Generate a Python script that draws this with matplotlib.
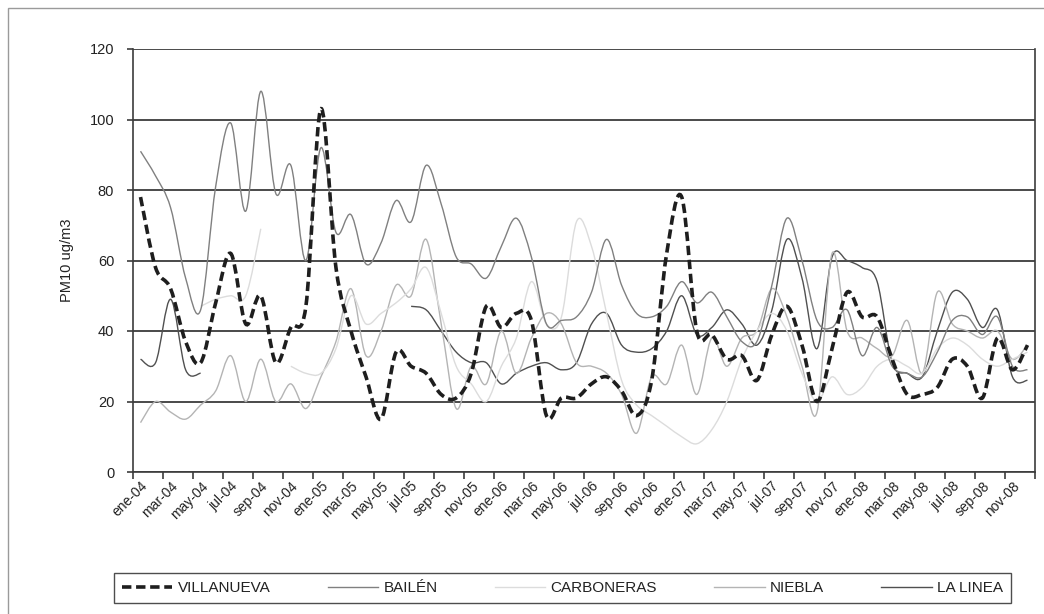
import numpy as np
import matplotlib
matplotlib.use('Agg')
import matplotlib.pyplot as plt
from matplotlib.path import Path
from matplotlib.patches import PathPatch, Rectangle
from matplotlib.lines import Line2D

plt.rcParams['font.family'] = ['Liberation Sans', 'DejaVu Sans']

nan = np.nan
month_names = ['ene', 'feb', 'mar', 'abr', 'may', 'jun', 'jul', 'ago', 'sep', 'oct', 'nov', 'dic']
years = ['04', '05', '06', '07', '08']
categories = [f'{m}-{y}' for y in years for m in month_names]
tick_labels = categories[::2]

villanueva = [78, 58, 52, 37, 31, 48, 62, 42, 50, 31, 41, 47,
              103, 58, 40, 27, 15, 34, 30, 28, 22, 21, 28, 47,
              41, 45, 43, 16, 21, 21, 25, 27, 23, 16, 26, 62,
              78, 40, 39, 32, 33, 26, 39, 47, 36, 20, 35, 51,
              44, 44, 32, 22, 22, 24, 32, 30, 21, 38, 29, 36]
bailen = [91, 84, 75, 55, 46, 81, 99, 74, 108, 79, 87, 60,
          92, 68, 73, 59, 65, 77, 71, 87, 76, 61, 59, 55,
          64, 72, 61, 42, 43, 44, 51, 66, 53, 45, 44, 47,
          54, 48, 51, 44, 37, 37, 53, 72, 60, 43, 41, 46,
          33, 41, 30, 28, 27, 34, 43, 44, 39, 44, 30, 29]
carboneras = [nan, nan, nan, nan, 47, 49, 50, 50, 69, nan, 30, 28,
              28, 35, 50, 42, 45, 48, 52, 58, 45, 30, 25, 20,
              30, 38, 54, 42, 44, 71, 64, 45, 26, 19, 16, 13,
              10, 8, 12, 20, 32, 40, 45, 40, 28, 20, 27, 22,
              24, 30, 32, 30, 28, 35, 38, 36, 32, 30, 32, 34]
niebla = [14, 20, 17, 15, 19, 23, 33, 20, 32, 20, 25, 18,
          27, 37, 52, 33, 40, 53, 50, 66, 42, 18, 30, 25,
          40, 28, 38, 45, 42, 31, 30, 28, 22, 11, 27, 25,
          36, 22, 38, 30, 38, 40, 52, 44, 30, 17, 62, 40,
          38, 35, 33, 43, 28, 51, 42, 40, 38, 40, 32, 36]
la_linea = [32, 31, 49, 29, 28, nan, nan, nan, nan, nan, nan, nan,
            nan, nan, nan, nan, nan, nan, 47, 46, 40, 34, 31, 31,
            25, 28, 30, 31, 29, 31, 42, 45, 36, 34, 35, 40,
            50, 39, 41, 46, 42, 36, 46, 66, 55, 35, 61, 60,
            58, 54, 31, 28, 27, 40, 51, 49, 41, 46, 27, 26]

series = [
    ('VILLANUEVA', villanueva, '#1e1e1e', 2.6, (0, (2.6, 1.3))),
    ('BAILÉN', bailen, '#808080', 1.0, '-'),
    ('CARBONERAS', carboneras, '#dcdcdc', 1.0, '-'),
    ('NIEBLA', niebla, '#b4b4b4', 1.0, '-'),
    ('LA LINEA', la_linea, '#505050', 1.0, '-'),
]


def smooth_path(values):
    x = np.arange(len(values), dtype=float)
    y = np.asarray(values, dtype=float)
    verts, codes = [], []
    ok = ~np.isnan(y)
    i = 0
    n = len(y)
    while i < n:
        if not ok[i]:
            i += 1
            continue
        j = i
        while j + 1 < n and ok[j + 1]:
            j += 1
        P = np.column_stack([x[i:j + 1], y[i:j + 1]])
        m = len(P)
        if m >= 2:
            verts.append(P[0]); codes.append(Path.MOVETO)
            for k in range(m - 1):
                pm = P[k - 1] if k > 0 else P[k]
                p2 = P[k + 2] if k + 2 < m else P[k + 1]
                c1 = P[k] + (P[k + 1] - pm) / 6.0
                c2 = P[k + 1] - (p2 - P[k]) / 6.0
                verts += [c1, c2, P[k + 1]]
                codes += [Path.CURVE4] * 3
        i = j + 1
    return Path(np.array(verts), codes)


W, H = 1044, 614
fig = plt.figure(figsize=(W / 100, H / 100), dpi=100)
ax = fig.add_axes([133 / W, 1 - 472 / H, (1035 - 133) / W, (472 - 49) / H])

for name, vals, col, lw, ls in reversed(series):
    patch = PathPatch(smooth_path(vals), facecolor='none', edgecolor=col,
                      linewidth=lw, linestyle=ls, capstyle='butt', zorder=3)
    ax.add_patch(patch)

ax.set_xlim(-0.5, len(categories) - 0.5)
ax.set_ylim(0, 120)
ax.set_yticks(np.arange(0, 121, 20))
ax.yaxis.grid(True, color='#3c3c3c', linewidth=1.3)
ax.set_axisbelow(True)

ax.set_xticks(np.arange(-0.5, len(categories), 2))
ax.set_xticklabels([])
ax.set_xticks(np.arange(0, len(categories), 2), minor=True)
ax.set_xticklabels(tick_labels, minor=True, rotation=45, ha='right', va='top',
                   rotation_mode='anchor', fontsize=10, color='#222222')
ax.tick_params(axis='x', which='minor', length=0, pad=5)
ax.tick_params(axis='x', which='major', length=5, width=1.2, color='#3c3c3c')
ax.tick_params(axis='y', length=4.5, width=1.2, color='#3c3c3c', labelsize=10.5,
               labelcolor='#222222', pad=9)

for s in ['left', 'bottom', 'right']:
    ax.spines[s].set_color('#3c3c3c')
    ax.spines[s].set_linewidth(1.2)
ax.spines['top'].set_visible(False)

ax.set_ylabel('PM10 ug/m3', fontsize=10.5, color='#222222', labelpad=11)

handles = [Line2D([], [], color=c, linewidth=lw, linestyle=ls) for _, _, c, lw, ls in series]
labels = [s[0] for s in series]
leg = fig.legend(handles, labels, loc='center', ncol=5,
                 bbox_to_anchor=((115 + 1010) / 2 / W, 1 - 588 / H),
                 frameon=True, fancybox=False, edgecolor='#222222',
                 fontsize=11, handlelength=3.3, columnspacing=3.75,
                 handletextpad=0.35, borderpad=0.5, borderaxespad=0)
leg.get_frame().set_linewidth(1.0)
for t in leg.get_texts():
    t.set_color('#222222')

fig.patches.append(Rectangle((8 / W, -0.05), 1.2, 1.05 - 8 / H,
                             transform=fig.transFigure, fill=False,
                             edgecolor='#9a9a9a', linewidth=1.0))

fig.savefig('out.png', dpi=100)
